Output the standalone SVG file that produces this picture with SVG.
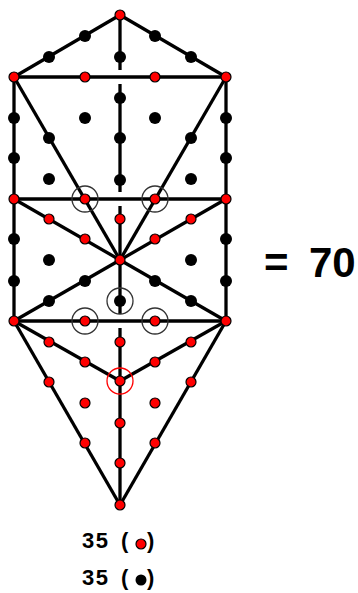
<svg xmlns="http://www.w3.org/2000/svg" width="358" height="593" viewBox="0 0 358 593">
<style>
.ln{stroke:#000;stroke-width:3.3;fill:none;stroke-linecap:butt}
.r{fill:#f00;stroke:#000;stroke-width:1.2}
.b{fill:#000}
.ring{fill:none;stroke:#333;stroke-width:1.3}
.rring{fill:none;stroke:#f00;stroke-width:1.3}
.t{font-family:"Liberation Sans",Arial,sans-serif;font-weight:bold;fill:#000}
</style>
<rect width="358" height="593" fill="#fff"/>
<g id="connectors" class="ln">
<line x1="120" y1="15" x2="14" y2="77"/>
<line x1="120" y1="15" x2="226" y2="77"/>
<line x1="14" y1="77" x2="226" y2="77"/>
<line x1="14" y1="199" x2="226" y2="199"/>
<line x1="14" y1="321" x2="226" y2="321"/>
<line x1="14" y1="77" x2="14" y2="321"/>
<line x1="226" y1="77" x2="226" y2="321"/>
<line x1="120" y1="15" x2="120" y2="70"/>
<line x1="120" y1="84" x2="120" y2="192"/>
<line x1="120" y1="206" x2="120" y2="314"/>
<line x1="120" y1="328" x2="120" y2="505"/>
<line x1="14" y1="77" x2="120" y2="260"/>
<line x1="226" y1="77" x2="120" y2="260"/>
<line x1="14" y1="199" x2="120" y2="260"/>
<line x1="226" y1="199" x2="120" y2="260"/>
<line x1="14" y1="321" x2="120" y2="260"/>
<line x1="226" y1="321" x2="120" y2="260"/>
<line x1="14" y1="321" x2="120" y2="381"/>
<line x1="226" y1="321" x2="120" y2="381"/>
<line x1="14" y1="321" x2="120" y2="505"/>
<line x1="226" y1="321" x2="120" y2="505"/>
</g>
<g id="rings">
<circle class="ring" cx="85" cy="199" r="13"/>
<circle class="ring" cx="155" cy="199" r="13"/>
<circle class="ring" cx="120" cy="301" r="13"/>
<circle class="ring" cx="85" cy="321" r="13"/>
<circle class="ring" cx="155" cy="321" r="13"/>
<circle class="rring" cx="120" cy="381" r="13"/>
</g>
<g id="black-dots" class="b">
<g id="k1"><circle cx="85" cy="36" r="6"/></g>
<g id="k2"><circle cx="49" cy="57" r="6"/></g>
<g id="k3"><circle cx="155" cy="36" r="6"/></g>
<g id="k4"><circle cx="191" cy="57" r="6"/></g>
<g id="k5"><circle cx="120" cy="57" r="6"/></g>
<g id="k6"><circle cx="120" cy="98" r="6"/></g>
<g id="k7"><circle cx="14" cy="118" r="6"/></g>
<g id="k8"><circle cx="226" cy="118" r="6"/></g>
<g id="k9"><circle cx="14" cy="158" r="6"/></g>
<g id="k10"><circle cx="226" cy="158" r="6"/></g>
<g id="k11"><circle cx="14" cy="239" r="6"/></g>
<g id="k12"><circle cx="226" cy="239" r="6"/></g>
<g id="k13"><circle cx="14" cy="281" r="6"/></g>
<g id="k14"><circle cx="226" cy="281" r="6"/></g>
<g id="k15"><circle cx="85" cy="118" r="6"/></g>
<g id="k16"><circle cx="155" cy="118" r="6"/></g>
<g id="k17"><circle cx="49" cy="138" r="6"/></g>
<g id="k18"><circle cx="191" cy="138" r="6"/></g>
<g id="k19"><circle cx="120" cy="138" r="6"/></g>
<g id="k20"><circle cx="120" cy="180" r="6"/></g>
<g id="k21"><circle cx="49" cy="179" r="6"/></g>
<g id="k22"><circle cx="191" cy="179" r="6"/></g>
<g id="k23"><circle cx="49" cy="260" r="6"/></g>
<g id="k24"><circle cx="191" cy="260" r="6"/></g>
<g id="k25"><circle cx="85" cy="281" r="6"/></g>
<g id="k26"><circle cx="49" cy="301" r="6"/></g>
<g id="k27"><circle cx="155" cy="281" r="6"/></g>
<g id="k28"><circle cx="191" cy="301" r="6"/></g>
<g id="k29"><circle cx="120" cy="301" r="6"/></g>
</g>
<g id="red-dots" class="r">
<g id="r1"><circle cx="120" cy="15" r="5"/></g>
<g id="r2"><circle cx="14" cy="77" r="5"/></g>
<g id="r3"><circle cx="85" cy="77" r="5"/></g>
<g id="r4"><circle cx="155" cy="77" r="5"/></g>
<g id="r5"><circle cx="226" cy="77" r="5"/></g>
<g id="r6"><circle cx="14" cy="199" r="5"/></g>
<g id="r7"><circle cx="85" cy="199" r="5"/></g>
<g id="r8"><circle cx="155" cy="199" r="5"/></g>
<g id="r9"><circle cx="226" cy="199" r="5"/></g>
<g id="r10"><circle cx="120" cy="219" r="5"/></g>
<g id="r11"><circle cx="49" cy="219" r="5"/></g>
<g id="r12"><circle cx="85" cy="239" r="5"/></g>
<g id="r13"><circle cx="191" cy="219" r="5"/></g>
<g id="r14"><circle cx="155" cy="239" r="5"/></g>
<g id="r15"><circle cx="120" cy="260" r="5"/></g>
<g id="r16"><circle cx="14" cy="321" r="5"/></g>
<g id="r17"><circle cx="85" cy="321" r="5"/></g>
<g id="r18"><circle cx="155" cy="321" r="5"/></g>
<g id="r19"><circle cx="226" cy="321" r="5"/></g>
<g id="r20"><circle cx="120" cy="342" r="5"/></g>
<g id="r21"><circle cx="49" cy="342" r="5"/></g>
<g id="r22"><circle cx="85" cy="362" r="5"/></g>
<g id="r23"><circle cx="191" cy="342" r="5"/></g>
<g id="r24"><circle cx="155" cy="362" r="5"/></g>
<g id="r25"><circle cx="120" cy="381" r="5"/></g>
<g id="r26"><circle cx="49" cy="382" r="5"/></g>
<g id="r27"><circle cx="191" cy="382" r="5"/></g>
<g id="r28"><circle cx="85" cy="403" r="5"/></g>
<g id="r29"><circle cx="155" cy="403" r="5"/></g>
<g id="r30"><circle cx="120" cy="423" r="5"/></g>
<g id="r31"><circle cx="85" cy="443" r="5"/></g>
<g id="r32"><circle cx="155" cy="443" r="5"/></g>
<g id="r33"><circle cx="120" cy="463" r="5"/></g>
<g id="r34"><circle cx="120" cy="505" r="5"/></g>
</g>
<g id="total">
<text class="t" y="277" font-size="42"><tspan x="264">=</tspan><tspan x="309">70</tspan></text>
</g>
<g id="legend">
<text class="t" x="82" y="548" font-size="22" letter-spacing="1.5">35</text>
<text class="t" x="121" y="548" font-size="22">(</text>
<circle class="r" cx="141" cy="544" r="5"/>
<text class="t" x="147" y="548" font-size="22">)</text>
<text class="t" x="82" y="585" font-size="22" letter-spacing="1.5">35</text>
<text class="t" x="121" y="585" font-size="22">(</text>
<circle class="b" cx="141" cy="580" r="5.5"/>
<text class="t" x="147" y="585" font-size="22">)</text>
</g>
</svg>
